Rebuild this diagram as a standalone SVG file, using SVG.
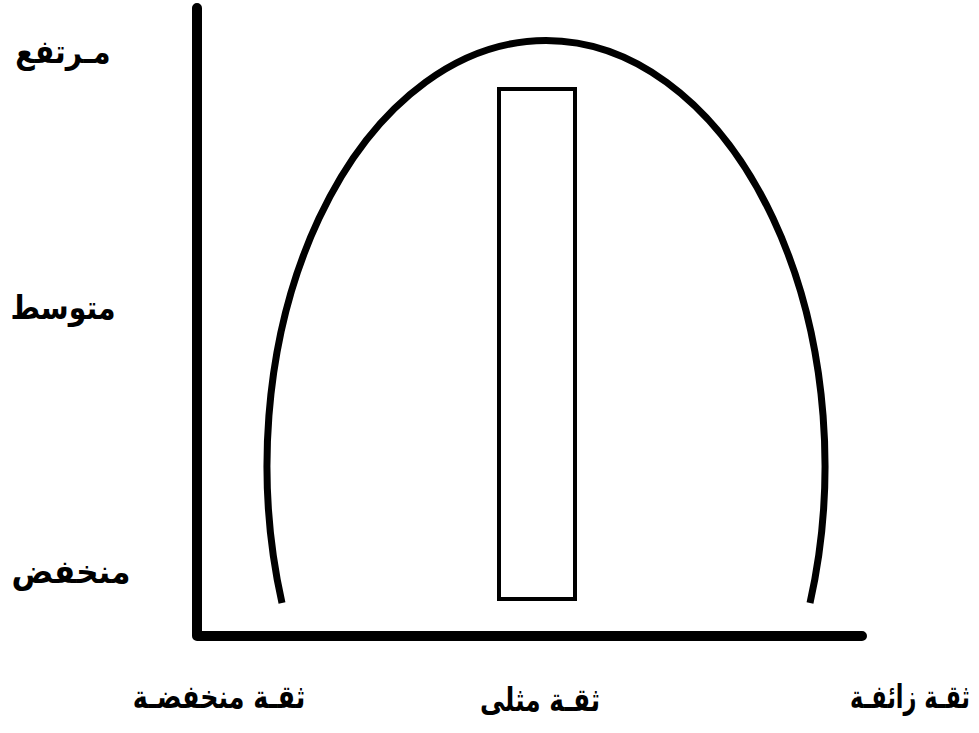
<svg xmlns="http://www.w3.org/2000/svg" width="979" height="733" viewBox="0 0 979 733">
<style>
.lbl{font-family:"DejaVu Sans","Noto Sans",sans-serif;font-weight:bold;font-size:27px;fill:#000;text-anchor:middle}
.ax{stroke:#000;stroke-width:10;fill:none;stroke-linecap:round}
</style>
<rect width="979" height="733" fill="#fff"/>
<g id="connectors">
<path class="ax" d="M197 8 V636 M197 636 H862"/>
</g>
<g id="curve">
<path d="M282 603 A279 425 0 1 1 810 603" fill="none" stroke="#000" stroke-width="7"/>
</g>
<g id="bar">
<rect x="499" y="89" width="76" height="510" fill="none" stroke="#000" stroke-width="4"/>
</g>
<g id="labels">
<text class="lbl" direction="rtl" transform="translate(63,63) scale(1.05,1.2)">مـرتفع</text>
<text class="lbl" direction="rtl" transform="translate(63,319) scale(1.05,1.2)">متوسط</text>
<text class="lbl" direction="rtl" transform="translate(71,583) scale(1.15,1.2)">منخفض</text>
<text class="lbl" direction="rtl" transform="translate(219,708) scale(0.94,1.2)">ثقـة منخفضـة</text>
<text class="lbl" direction="rtl" transform="translate(540,711) scale(0.92,1.2)">ثقـة مثلى</text>
<text class="lbl" direction="rtl" transform="translate(910,708) scale(0.83,1.2)">ثقـة زائفـة</text>
</g>
</svg>
